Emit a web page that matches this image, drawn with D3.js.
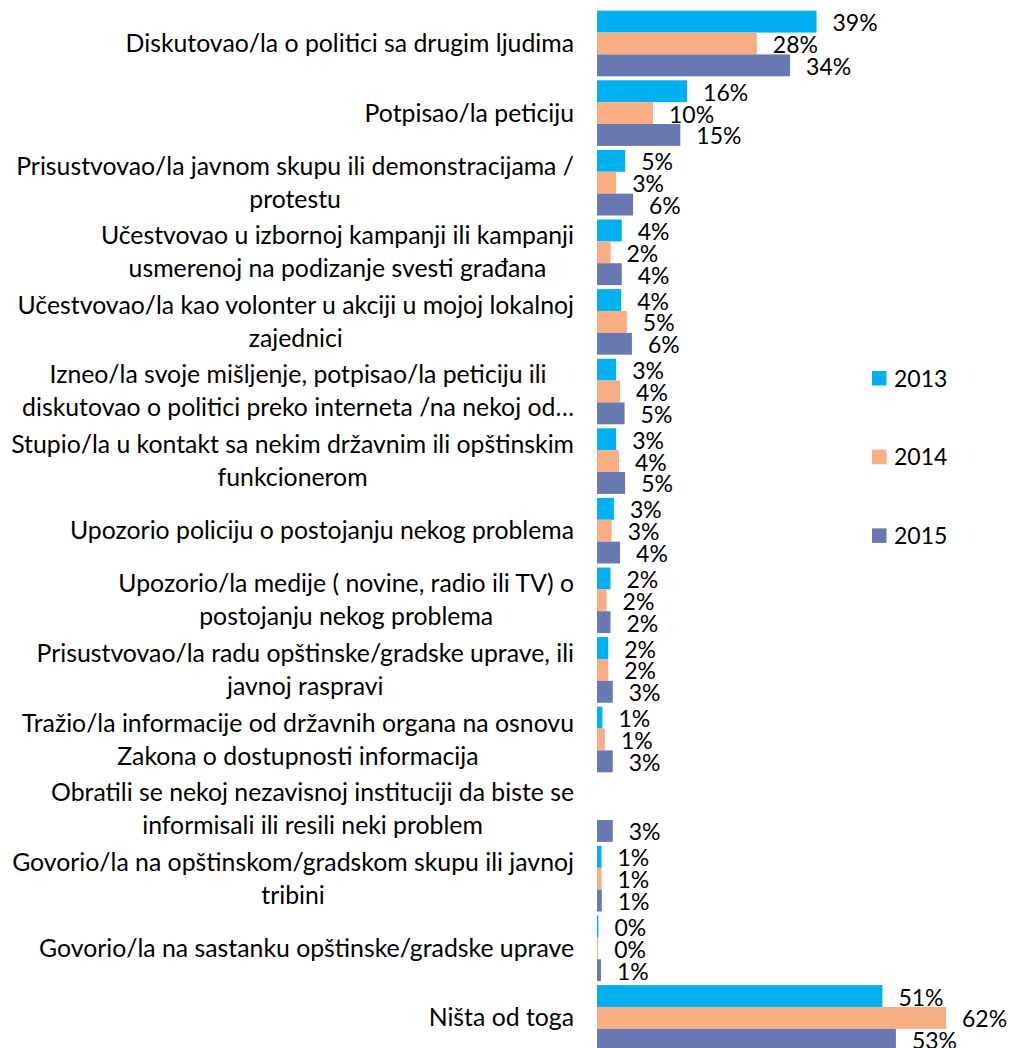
<!DOCTYPE html>
<html>
<head>
<meta charset="utf-8">
<script src="https://cdn.jsdelivr.net/npm/d3@7"></script>
<style>
body { margin: 0; background: #fff; }
text { font-family: Lato, "Open Sans", sans-serif; fill: #000; }
</style>
</head>
<body>
<script>
// kategorije (\n = novi red kao na originalu)
var categories = [
  "Diskutovao/la o politici sa drugim ljudima",
  "Potpisao/la peticiju",
  "Prisustvovao/la javnom skupu ili demonstracijama /\nprotestu",
  "Učestvovao u izbornoj kampanji ili kampanji\nusmerenoj na podizanje svesti građana",
  "Učestvovao/la kao volonter u akciji u mojoj lokalnoj\nzajednici",
  "Izneo/la svoje mišljenje, potpisao/la peticiju ili\ndiskutovao o politici preko interneta /na nekoj od…",
  "Stupio/la u kontakt sa nekim državnim ili opštinskim\nfunkcionerom",
  "Upozorio policiju o postojanju nekog problema",
  "Upozorio/la medije ( novine, radio ili TV) o\npostojanju nekog problema",
  "Prisustvovao/la radu opštinske/gradske uprave, ili\njavnoj raspravi",
  "Tražio/la informacije od državnih organa na osnovu\nZakona o dostupnosti informacija",
  "Obratili se nekoj nezavisnoj instituciji da biste se\ninformisali ili resili neki problem",
  "Govorio/la na opštinskom/gradskom skupu ili javnoj\ntribini",
  "Govorio/la na sastanku opštinske/gradske uprave",
  "Ništa od toga"
];
var years = ["2013", "2014", "2015"];
// procenti (null = nema podatka)
var v2013 = [39, 16, 5.0, 4.4, 4.3, 3.4, 3.4, 3.0, 2.4, 2.0, 0.96, null, 0.8, 0.25, 50.7];
var v2014 = [28.4, 9.95, 3.4, 2.4, 5.3, 4.1, 3.9, 2.6, 1.7, 2.0, 1.4, null, 0.8, 0.2, 62];
var v2015 = [34.3, 14.8, 6.4, 4.4, 6.2, 4.9, 5.0, 4.1, 2.4, 2.8, 2.8, 2.8, 0.85, 0.7, 53.1];
var series = [v2013, v2014, v2015];
var colors = ["#00B0F0", "#F8AD82", "#6878B1"];

var width = 1011, height = 1048;
var valueSize = 23, catSize = 24.8;

var svg = d3.select("body").append("svg")
  .attr("width", width)
  .attr("height", height);

var x = d3.scaleLinear().domain([0, 62]).range([597, 946]);
var y = d3.scaleBand().domain(categories).range([8.7, 1052.7])
  .paddingInner(0.0575).paddingOuter(0.0287);
var ySub = d3.scaleBand().domain(years).range([0, y.bandwidth()]);

var rows = [];
categories.forEach(function(c, i) {
  years.forEach(function(yr, j) {
    if (series[j][i] != null) rows.push({cat: c, year: yr, value: series[j][i], color: colors[j]});
  });
});

var bars = svg.append("g");
bars.selectAll("rect").data(rows).enter().append("rect")
  .attr("x", x(0))
  .attr("y", function(d) { return y(d.cat) + ySub(d.year); })
  .attr("width", function(d) { return x(d.value) - x(0); })
  .attr("height", ySub.bandwidth())
  .attr("fill", function(d) { return d.color; });

bars.selectAll("text").data(rows).enter().append("text")
  .attr("x", function(d) { return x(d.value) + 16; })
  .attr("y", function(d) { return y(d.cat) + ySub(d.year) + ySub.bandwidth() / 2 + 9.5; })
  .style("font-size", valueSize + "px")
  .text(function(d) { return Math.round(d.value) + "%"; });

// natpisi kategorija: blok desno poravnat, redovi centrirani
var labelRight = 574;
var lineH = 33;
var labels = svg.append("g");
categories.forEach(function(c) {
  var lines = c.split("\n");
  var t = labels.append("text").style("font-size", catSize + "px").attr("text-anchor", "middle");
  var cy = y(c) + y.bandwidth() / 2;
  lines.forEach(function(l, k) {
    t.append("tspan")
      .attr("x", 0)
      .attr("y", cy + (k - (lines.length - 1) / 2) * lineH + 8.5)
      .text(l);
  });
  var w = t.node().getBBox().width;
  t.selectAll("tspan").attr("x", labelRight - w / 2);
});

// legenda
var legend = svg.append("g");
years.forEach(function(yr, j) {
  var ly = 378 + j * 78.7;
  legend.append("rect").attr("x", 872).attr("y", ly - 7).attr("width", 14.5).attr("height", 14.5)
    .attr("fill", colors[j]);
  legend.append("text").attr("x", 894).attr("y", ly + 8.5)
    .style("font-size", valueSize + "px").text(yr);
});
</script>
</body>
</html>
